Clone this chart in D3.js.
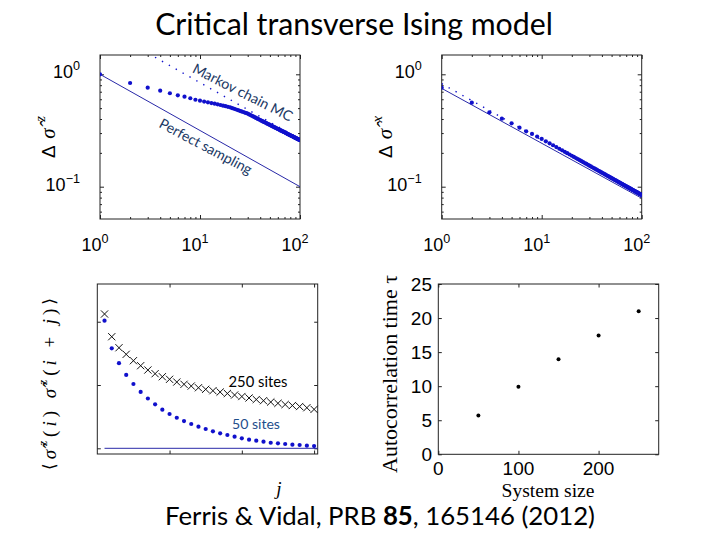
<!DOCTYPE html>
<html><head><meta charset="utf-8">
<script src="https://cdn.jsdelivr.net/npm/d3@7/dist/d3.min.js"></script>
<style>body{margin:0;background:#fff}svg{display:block}</style>
</head><body>
<svg id="c" width="720" height="540"></svg>
<script>
// ---------------- data ----------------
const title = "Critical transverse Ising model";
const sizeN = d3.range(1, 101);                       // N = 1..100
const mcDeltaZ = [1.0,0.837,0.760,0.715,0.678,0.650,0.632,0.612,0.594,0.582,
  0.572,0.563,0.555,0.548,0.541,0.533,0.526,0.520,0.514,0.508,
  0.500,0.493,0.486,0.480,0.473,0.467,0.462,0.457,0.452,0.447,
  0.440,0.434,0.428,0.422,0.416,0.411,0.406,0.401,0.396,0.392,
  0.387,0.383,0.379,0.375,0.372,0.368,0.364,0.361,0.358,0.354,
  0.351,0.348,0.345,0.342,0.339,0.337,0.334,0.331,0.329,0.326,
  0.324,0.322,0.319,0.317,0.315,0.313,0.311,0.309,0.307,0.305,
  0.303,0.301,0.299,0.297,0.295,0.293,0.292,0.290,0.288,0.287,
  0.285,0.284,0.282,0.281,0.279,0.278,0.276,0.275,0.273,0.272,
  0.271,0.269,0.268,0.267,0.265,0.264,0.263,0.262,0.261,0.259];
const perfectZN = [1, 100], perfectZ = [1.0, 0.1];
const theoryZN = [1, 100], theoryZ = [2.68, 0.265];
const mcDeltaX = [0.760,0.559,0.459,0.403,0.366,0.335,0.311,0.295,0.279,0.266,
  0.2535,0.2434,0.2338,0.2253,0.2177,0.2108,0.2045,0.1987,0.1934,0.1885,
  0.1840,0.1797,0.1758,0.1721,0.1686,0.1653,0.1622,0.1593,0.1565,0.1539,
  0.1514,0.1490,0.1467,0.1446,0.1425,0.1405,0.1386,0.1368,0.1350,0.1333,
  0.1317,0.1301,0.1286,0.1271,0.1257,0.1243,0.1230,0.1217,0.1204,0.1192,
  0.1180,0.1169,0.1158,0.1147,0.1137,0.1127,0.1117,0.1107,0.1098,0.1088,
  0.1079,0.1071,0.1062,0.1054,0.1046,0.1038,0.1030,0.1022,0.1015,0.1008,
  0.1000,0.0993,0.0987,0.0980,0.0973,0.0967,0.0961,0.0955,0.0948,0.0943,
  0.0937,0.0931,0.0925,0.0920,0.0914,0.0909,0.0904,0.0899,0.0894,0.0889,
  0.0884,0.0879,0.0874,0.0869,0.0865,0.0860,0.0856,0.0852,0.0847,0.0843];
const theoryXN = [1, 100], theoryX = [0.825, 0.0825];
const perfectXN = [1, 100], perfectX = [0.75, 0.079];
const logXTicks = [1, 10, 100], logXExp = ["0", "1", "2"];
const logYTicks = [0.1, 1], logYExp = ["\u22121", "0"];

const jVals = d3.range(1, 31);
const corr250 = [0.2122,0.1763,0.1589,0.1485,0.1384,0.1305,0.1237,0.1179,0.1131,0.1090,
  0.1047,0.1011,0.0984,0.0957,0.0932,0.0910,0.0889,0.0866,0.0842,0.0818,
  0.0795,0.0771,0.0752,0.0731,0.0711,0.0692,0.0676,0.0660,0.0641,0.0615];
const corr50 = [0.2016,0.1580,0.1345,0.1160,0.1016,0.0890,0.0787,0.0695,0.0610,0.0542,
  0.0483,0.0431,0.0384,0.0341,0.0305,0.0269,0.0237,0.0210,0.0183,0.0158,
  0.0136,0.0120,0.0104,0.0088,0.0079,0.0068,0.0057,0.0052,0.0041,0.0036];
const baseJ = [1, 30.5], baseCorr = [0, 0];
const jTicks = [10, 20, 30], corrTicks = [0, 0.1, 0.2];

const systemSize = [50, 100, 150, 200, 250];
const tau = [5.7, 9.9, 13.95, 17.45, 21.0];
const sizeTicks = [0, 100, 200], tauTicks = [0, 5, 10, 15, 20, 25];

// ---------------- drawing ----------------
const svg = d3.select("#c");
const blue = "#1010cc", lineBlue = "#2828a8", navy = "#203864", axisCol = "#222";
const sans = "'Liberation Sans', Arial, sans-serif";
const serif = "'Liberation Serif', 'Times New Roman', serif";
const cal = "Lato, 'Open Sans', sans-serif";

function fit(sel, target) {
  const w = sel.node().getComputedTextLength();
  const fs = parseFloat(sel.attr("font-size"));
  sel.attr("font-size", fs * target / w);
}

function frame(x, y, xt, yt, xminor, yminor, tl) {
  const [x0, x1] = x.range(), [y0, y1] = y.range();
  const g = svg.append("g");
  const add = (ax, tr) => { const a = g.append("g").attr("transform", tr).call(ax);
    a.select(".domain").remove(); a.selectAll("line").attr("stroke", axisCol); a.selectAll("text").remove(); };
  [[xt, tl], [xminor, tl / 2]].forEach(([v, s]) => { if (!v) return;
    add(d3.axisBottom(x).tickValues(v).tickSize(-s), `translate(0,${y0})`);
    add(d3.axisTop(x).tickValues(v).tickSize(-s), `translate(0,${y1})`); });
  [[yt, tl], [yminor, tl / 2]].forEach(([v, s]) => { if (!v) return;
    add(d3.axisLeft(y).tickValues(v).tickSize(-s), `translate(${x0},0)`);
    add(d3.axisRight(y).tickValues(v).tickSize(-s), `translate(${x1},0)`); });
  g.append("rect").attr("x", x0).attr("y", y1).attr("width", x1 - x0).attr("height", y0 - y1)
    .attr("fill", "none").attr("stroke", axisCol).attr("stroke-width", 1);
  return g;
}

function powLabel(x, y, exp, anchor) {
  const t = svg.append("text").attr("x", x).attr("y", y).attr("font-family", sans)
    .attr("font-size", 18).attr("text-anchor", anchor).attr("fill", "#000");
  t.append("tspan").text("10");
  t.append("tspan").attr("dy", -8).style("font-size", "70%").text(exp);
  return t;
}

// ---- top panels (log-log) ----
const minorX = [2,3,4,5,6,7,8,9,20,30,40,50,60,70,80,90];
const minorY = [0.06,0.07,0.08,0.09,0.2,0.3,0.4,0.5,0.6,0.7,0.8,0.9];
function logPanel(xl, xr, id) {
  const x = d3.scaleLog().domain([1, 100]).range([xl, xr]);
  const y = d3.scaleLog().domain([0.0516, 1.485]).range([219, 55]);
  frame(x, y, logXTicks, logYTicks, minorX, minorY, 4);
  svg.append("clipPath").attr("id", id).append("rect")
    .attr("x", xl).attr("y", 55).attr("width", xr - xl).attr("height", 164);
  logXTicks.forEach((v, i) => powLabel(x(v) - 5, 251, logXExp[i], "middle"));
  logYTicks.forEach((v, i) => powLabel(xl - 20, y(v) + 4, logYExp[i], "end"));
  return {x, y, g: svg.append("g").attr("clip-path", `url(#${id})`)};
}
const line = (x, y) => d3.line().x(d => x(d[0])).y(d => y(d[1]));

const L = logPanel(100, 300, "cl1");
L.g.append("path").datum(d3.zip(theoryZN, theoryZ)).attr("d", line(L.x, L.y))
  .attr("fill", "none").attr("stroke", blue).attr("stroke-width", 1.4).attr("stroke-dasharray", "1.4,6.5");
L.g.append("path").datum(d3.zip(perfectZN, perfectZ)).attr("d", line(L.x, L.y))
  .attr("fill", "none").attr("stroke", lineBlue).attr("stroke-width", 1);
L.g.selectAll("circle").data(d3.zip(sizeN, mcDeltaZ)).join("circle")
  .attr("cx", d => L.x(d[0])).attr("cy", d => L.y(d[1])).attr("r", 2.1).attr("fill", blue);

const R = logPanel(441.7, 641.7, "cl2");
R.g.append("path").datum(d3.zip(theoryXN, theoryX)).attr("d", line(R.x, R.y))
  .attr("fill", "none").attr("stroke", blue).attr("stroke-width", 1.4).attr("stroke-dasharray", "1.4,6.5");
R.g.append("path").datum(d3.zip(perfectXN, perfectX)).attr("d", line(R.x, R.y))
  .attr("fill", "none").attr("stroke", lineBlue).attr("stroke-width", 1);
R.g.selectAll("circle").data(d3.zip(sizeN, mcDeltaX)).join("circle")
  .attr("cx", d => R.x(d[0])).attr("cy", d => R.y(d[1])).attr("r", 2.1).attr("fill", blue);

// rotated annotations
const mk = svg.append("text").attr("font-family", cal).attr("font-size", 15).attr("fill", navy)
  .attr("text-anchor", "middle").attr("dominant-baseline", "central")
  .attr("transform", "translate(243,92) rotate(27)").text("Markov chain MC");
fit(mk, 110);
const ps = svg.append("text").attr("font-family", cal).attr("font-size", 15).attr("fill", navy)
  .attr("text-anchor", "middle").attr("dominant-baseline", "central")
  .attr("transform", "translate(206,146) rotate(28)").text("Perfect sampling");
fit(ps, 103);

function deltaLabel(cx, comp) {
  const t = svg.append("text").attr("font-family", serif).attr("font-size", 21)
    .attr("text-anchor", "middle").attr("dominant-baseline", "central")
    .attr("textLength", 42).attr("lengthAdjust", "spacing")
    .attr("transform", `translate(${cx},137) rotate(-90)`);
  t.append("tspan").attr("font-family", sans).style("font-size", "90%").text("\u0394");
  t.append("tspan").attr("font-style", "italic").text("\u03C3\u0302");
  t.append("tspan").attr("font-style", "italic").attr("dy", -8).style("font-size", "70%").text(comp);
}
deltaLabel(48, "z");
deltaLabel(385, "x");

// ---- bottom-left: correlations ----
const bx = d3.scaleLinear().domain([0, 30.5]).range([97.3, 317.7]);
const by = d3.scaleLinear().domain([-0.009, 0.2596]).range([454, 284]);
frame(bx, by, jTicks, corrTicks, null, null, 3.5);
svg.append("path").datum(d3.zip(baseJ, baseCorr)).attr("d", line(bx, by))
  .attr("fill", "none").attr("stroke", lineBlue).attr("stroke-width", 1);
svg.append("g").selectAll("circle").data(d3.zip(jVals, corr50)).join("circle")
  .attr("cx", d => bx(d[0])).attr("cy", d => by(d[1])).attr("r", 2.1).attr("fill", blue);
const cs = 3.6;
svg.append("g").selectAll("path").data(d3.zip(jVals, corr250)).join("path")
  .attr("d", d => { const X = bx(d[0]), Y = by(d[1]);
    return `M${X-cs},${Y-cs}L${X+cs},${Y+cs}M${X-cs},${Y+cs}L${X+cs},${Y-cs}`; })
  .attr("stroke", "#111").attr("stroke-width", 1).attr("fill", "none");
const s250 = svg.append("text").attr("x", 258).attr("y", 386.7).attr("text-anchor", "middle")
  .attr("font-family", cal).attr("font-size", 15).attr("fill", "#000").text("250 sites");
fit(s250, 59);
const s50 = svg.append("text").attr("x", 256).attr("y", 429.3).attr("text-anchor", "middle")
  .attr("font-family", cal).attr("font-size", 15).attr("fill", "#1f4e8c").text("50 sites");
fit(s50, 48);

const cl = svg.append("text").attr("font-family", serif).attr("font-size", 19)
  .attr("text-anchor", "middle").attr("dominant-baseline", "central")
  .attr("textLength", 172).attr("lengthAdjust", "spacing")
  .attr("transform", "translate(49,384) rotate(-90)").attr("fill", "#000");
const parts = [["\u27E8", 0], ["\u03C3\u0302", 1], ["z", 2], ["(", 0], ["i", 1], [") ", 0],
 ["\u03C3\u0302", 1], ["z", 2], ["(", 0], ["i", 1], [" + ", 0], ["j", 1], [")", 0], ["\u27E9", 0]];
let prevSup = false;
parts.forEach(([s, k]) => {
  const ts = cl.append("tspan").text(s);
  if (s === "\u27E8" || s === "\u27E9") ts.attr("font-family", "'DejaVu Serif', serif").style("font-size", "90%");
  if (k >= 1) ts.attr("font-style", "italic");
  if (k === 2) { ts.attr("dy", -7).style("font-size", "70%"); prevSup = true; }
  else if (prevSup) { ts.attr("dy", 7); prevSup = false; }
});
svg.append("text").attr("x", 279).attr("y", 495).attr("text-anchor", "middle")
  .attr("font-family", serif).attr("font-style", "italic").attr("font-size", 19).text("j");

// ---- bottom-right: autocorrelation time ----
const rx = d3.scaleLinear().domain([0, 275]).range([438.3, 658.7]);
const ry = d3.scaleLinear().domain([0, 25]).range([454.3, 284]);
frame(rx, ry, sizeTicks, tauTicks, null, null, 3.5);
svg.append("g").selectAll("text").data(sizeTicks).join("text")
  .attr("x", d => rx(d)).attr("y", 475).attr("text-anchor", "middle")
  .attr("font-family", sans).attr("font-size", 19).text(d => d);
svg.append("g").selectAll("text").data(tauTicks).join("text")
  .attr("x", 432).attr("y", d => ry(d) + 7).attr("text-anchor", "end")
  .attr("font-family", sans).attr("font-size", 19).text(d => d);
svg.append("g").selectAll("circle").data(d3.zip(systemSize, tau)).join("circle")
  .attr("cx", d => rx(d[0])).attr("cy", d => ry(d[1])).attr("r", 2).attr("fill", "#000");
const al = svg.append("text").attr("font-family", serif).attr("font-size", 20)
  .attr("text-anchor", "middle").attr("dominant-baseline", "central")
  .attr("transform", "translate(389,374) rotate(-90)").text("Autocorrelation time \u03C4");
fit(al, 198);
const xl = svg.append("text").attr("x", 548).attr("y", 497).attr("text-anchor", "middle")
  .attr("font-family", serif).attr("font-size", 20).text("System size");
fit(xl, 93);

// ---- title & citation ----
const tt = svg.append("text").attr("x", 354).attr("y", 35).attr("text-anchor", "middle")
  .attr("font-family", cal).attr("font-size", 25).attr("fill", "#000").text(title);
fit(tt, 398);
const ct = svg.append("text").attr("x", 380).attr("y", 525).attr("text-anchor", "middle")
  .attr("font-family", cal).attr("font-size", 25).attr("fill", "#000");
ct.append("tspan").text("Ferris & Vidal, PRB ");
ct.append("tspan").attr("font-weight", "bold").text("85");
ct.append("tspan").text(", 165146 (2012)");
fit(ct, 430);
</script>
</body></html>
